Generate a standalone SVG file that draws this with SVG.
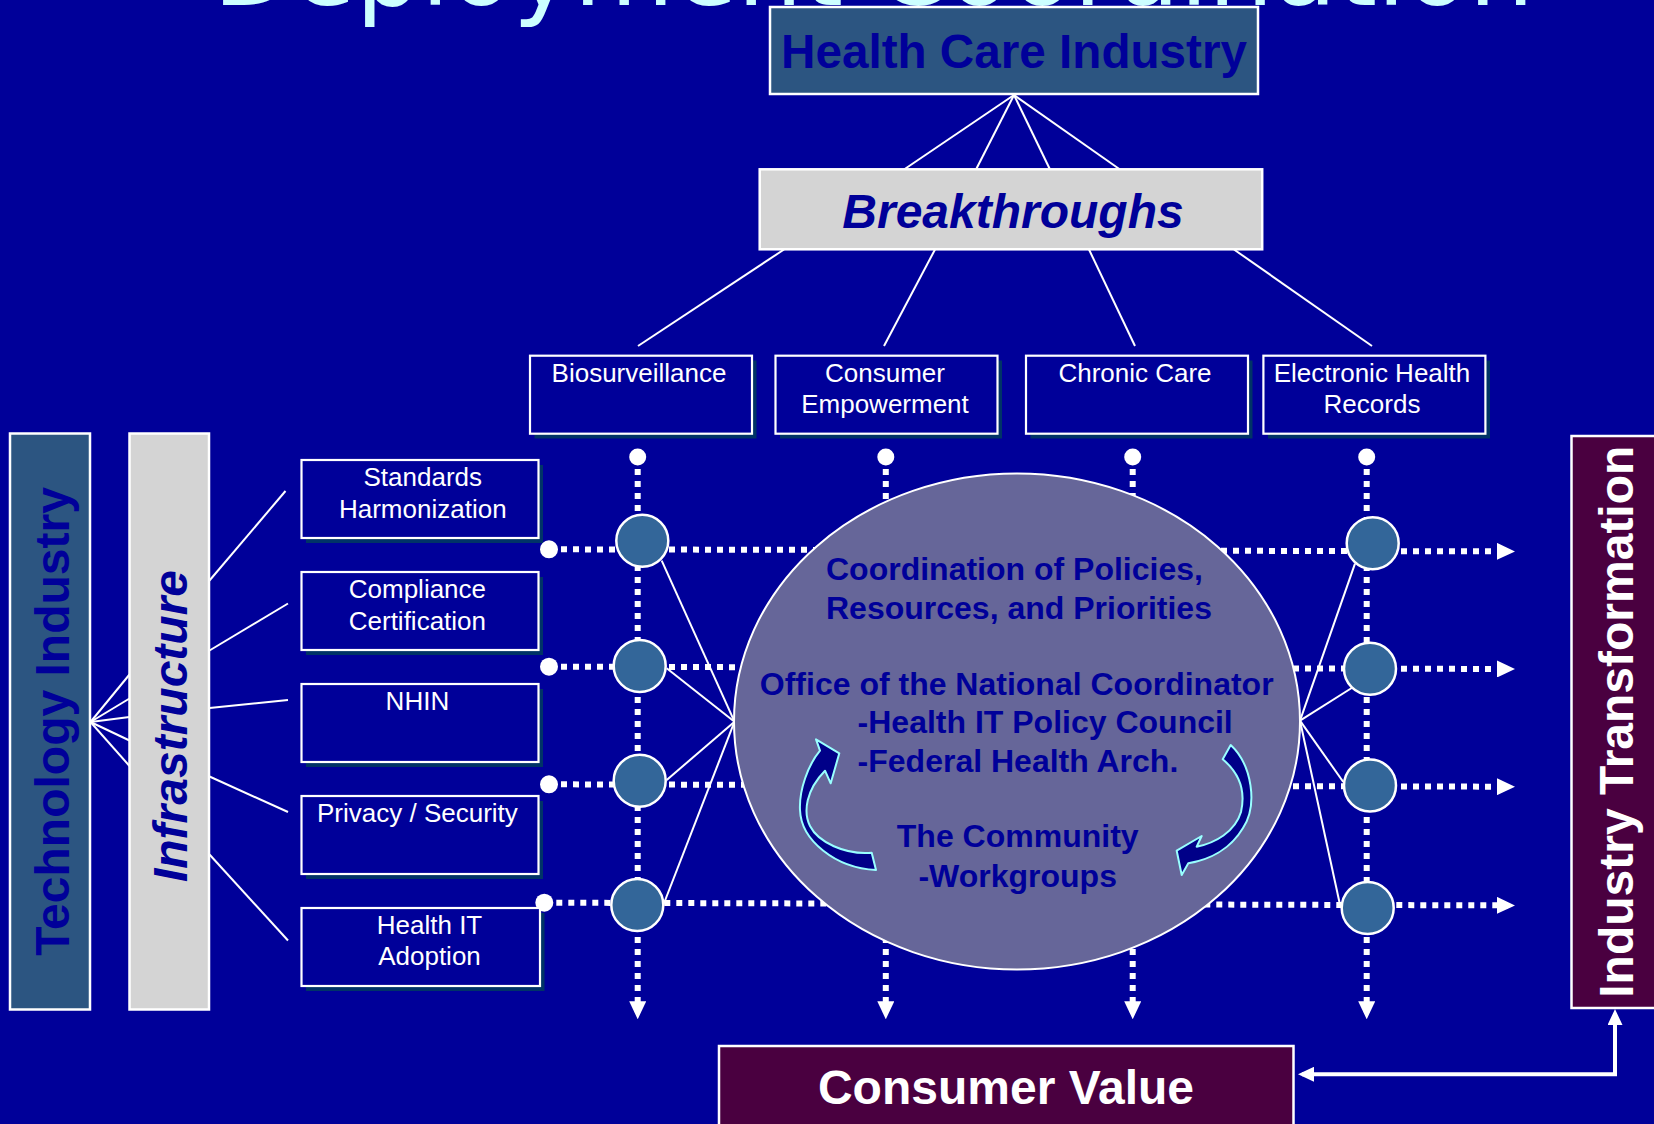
<svg xmlns="http://www.w3.org/2000/svg" width="1654" height="1124" viewBox="0 0 1654 1124">
  <defs>
    <style>
      .sans { font-family: "Liberation Sans", Arial, sans-serif; }
      .box { fill: #000099; stroke: #ffffff; stroke-width: 2.2; }
      .shadow { fill: #003366; }
      .lbl { font-family: "Liberation Sans", Arial, sans-serif; font-size: 26px; fill: #ffffff; text-anchor: middle; }
      .big { font-family: "Liberation Sans", Arial, sans-serif; font-size: 48px; font-weight: bold; text-anchor: middle; }
      .ell { font-family: "Liberation Sans", Arial, sans-serif; font-size: 32px; font-weight: bold; fill: #000099; }
      .line { stroke: #ffffff; stroke-width: 2; fill: none; }
      .flow { stroke: #ffffff; stroke-width: 6; stroke-dasharray: 6 6; fill: none; marker-end: url(#flowHead); }
      .dot { fill: #ffffff; }
      .hub { fill: #336699; stroke: #ffffff; stroke-width: 2.5; }
      .steel { fill: #2c5581; stroke: #ffffff; stroke-width: 2.5; }
      .grey { fill: #d4d4d4; stroke: #ffffff; stroke-width: 2.5; }
      .wine { fill: #4a0040; stroke: #ffffff; stroke-width: 2.5; }
      .cycle { fill: #000088; stroke: #99ffff; stroke-width: 2; stroke-linejoin: round; }
    </style>
    <marker id="flowHead" markerUnits="userSpaceOnUse" viewBox="0 0 18 17" markerWidth="18" markerHeight="17" refX="11" refY="8.5" orient="auto">
      <path d="M0,0 L18,8.5 L0,17 Z" fill="#ffffff"/>
    </marker>
    <marker id="solidHead" markerUnits="userSpaceOnUse" viewBox="0 0 16 15" markerWidth="16" markerHeight="15" refX="12" refY="7.5" orient="auto-start-reverse">
      <path d="M0,0 L16,7.5 L0,15 Z" fill="#ffffff"/>
    </marker>
  </defs>

  <!-- background -->
  <rect x="0" y="0" width="1654" height="1124" fill="#000099"/>

  <!-- slide title, clipped by the top edge -->
  <text x="213" y="5" font-family="'DejaVu Sans', Verdana, sans-serif" font-size="103" fill="#ccffff">Deployment Coordination</text>

  <g id="connectors">
    <!-- Health Care Industry to Breakthroughs -->
    <line class="line" x1="1014" y1="95" x2="904" y2="169.5"/>
    <line class="line" x1="1014" y1="95" x2="976" y2="169.5"/>
    <line class="line" x1="1014" y1="95" x2="1050" y2="169.5"/>
    <line class="line" x1="1014" y1="95" x2="1120" y2="169.5"/>
    <!-- Breakthroughs to the four areas -->
    <line class="line" x1="784" y1="249.5" x2="638" y2="346"/>
    <line class="line" x1="935" y1="249.5" x2="884" y2="346"/>
    <line class="line" x1="1089" y1="249.5" x2="1135" y2="346"/>
    <line class="line" x1="1234" y1="249.5" x2="1372" y2="346"/>
    <!-- Technology Industry to Infrastructure -->
    <line class="line" x1="90.5" y1="722" x2="129.5" y2="674.5"/>
    <line class="line" x1="90.5" y1="722" x2="129.5" y2="698.5"/>
    <line class="line" x1="90.5" y1="722" x2="129.5" y2="717"/>
    <line class="line" x1="90.5" y1="722" x2="129.5" y2="740.5"/>
    <line class="line" x1="90.5" y1="722" x2="129.5" y2="766"/>
    <!-- Infrastructure to its components -->
    <line class="line" x1="209.5" y1="580.5" x2="285.5" y2="491"/>
    <line class="line" x1="209.5" y1="650.5" x2="288" y2="603.5"/>
    <line class="line" x1="209.5" y1="708" x2="288" y2="700"/>
    <line class="line" x1="209.5" y1="776.5" x2="288" y2="812"/>
    <line class="line" x1="209.5" y1="854.5" x2="288" y2="940.5"/>

    <!-- vertical flows from each breakthrough area -->
    <path class="flow" d="M637.7,457 V1012.3"/>
    <path class="flow" d="M885.8,457 V1012.3"/>
    <path class="flow" d="M1132.7,457 V1012.3"/>
    <path class="flow" d="M1366.7,457 V1012.3"/>
    <circle class="dot" cx="637.7" cy="457" r="8.5"/>
    <circle class="dot" cx="885.8" cy="457" r="8.5"/>
    <circle class="dot" cx="1132.7" cy="457" r="8.5"/>
    <circle class="dot" cx="1366.7" cy="457" r="8.5"/>

    <!-- horizontal flows from each infrastructure component -->
    <path class="flow" d="M549,549.3 L1508,551.4"/>
    <path class="flow" d="M549,666.7 L1508,669"/>
    <path class="flow" d="M549,784.3 L1508,786.7"/>
    <path class="flow" d="M544.3,902.7 L1508,905.4"/>
    <circle class="dot" cx="549" cy="549.3" r="9"/>
    <circle class="dot" cx="549" cy="666.7" r="9"/>
    <circle class="dot" cx="549" cy="784.3" r="9"/>
    <circle class="dot" cx="544.3" cy="902.7" r="9"/>

    <!-- hubs to the coordination ellipse -->
    <line class="line" x1="661.7" y1="560.7" x2="734.5" y2="721.7"/>
    <line class="line" x1="666.7" y1="668.3" x2="734.5" y2="721.7"/>
    <line class="line" x1="666.7" y1="780" x2="734.5" y2="721.7"/>
    <line class="line" x1="663.3" y1="905" x2="734.5" y2="721.7"/>
    <line class="line" x1="1300" y1="720.7" x2="1355" y2="563.7"/>
    <line class="line" x1="1300" y1="720.7" x2="1351.7" y2="688"/>
    <line class="line" x1="1300" y1="720.7" x2="1343.3" y2="782"/>
    <line class="line" x1="1300" y1="720.7" x2="1340" y2="904.7"/>

    <!-- Consumer Value and Industry Transformation link -->
    <path d="M1302,1074.3 H1615 V1013" fill="none" stroke="#ffffff" stroke-width="4" marker-start="url(#solidHead)" marker-end="url(#solidHead)"/>
  </g>

  <g id="health-care-industry">
    <rect class="steel" x="770" y="7" width="488" height="87"/>
    <text class="big" x="1014" y="68" fill="#000099" textLength="466" lengthAdjust="spacingAndGlyphs">Health Care Industry</text>
  </g>

  <g id="breakthroughs">
    <rect class="grey" x="759.7" y="169.3" width="502.5" height="80"/>
    <text class="big" x="1013" y="228" fill="#000099" font-style="italic">Breakthroughs</text>
  </g>

  <g id="biosurveillance">
    <rect class="shadow" x="534.5" y="360.5" width="222" height="78"/>
    <rect class="box" x="530" y="355.7" width="222" height="78"/>
    <text class="lbl" x="639" y="381.7">Biosurveillance</text>
  </g>
  <g id="consumer-empowerment">
    <rect class="shadow" x="780" y="360.5" width="222" height="78"/>
    <rect class="box" x="775.5" y="355.7" width="222" height="78"/>
    <text class="lbl" x="885" y="381.7">Consumer</text>
    <text class="lbl" x="885" y="413.3">Empowerment</text>
  </g>
  <g id="chronic-care">
    <rect class="shadow" x="1030.5" y="360.5" width="222" height="78"/>
    <rect class="box" x="1026" y="355.7" width="222" height="78"/>
    <text class="lbl" x="1135" y="381.7">Chronic Care</text>
  </g>
  <g id="electronic-health-records">
    <rect class="shadow" x="1268" y="360.5" width="222" height="78"/>
    <rect class="box" x="1263.4" y="355.7" width="222" height="78"/>
    <text class="lbl" x="1372" y="381.7">Electronic Health</text>
    <text class="lbl" x="1372" y="413.3">Records</text>
  </g>

  <g id="technology-industry">
    <rect class="steel" x="10" y="433.5" width="80" height="576"/>
    <text class="big" transform="translate(69,721.4) rotate(-90)" fill="#000099">Technology Industry</text>
  </g>

  <g id="infrastructure">
    <rect class="grey" x="129.5" y="433.5" width="79.5" height="576"/>
    <text class="big" transform="translate(187,726) rotate(-90)" fill="#000099" font-style="italic">Infrastructure</text>
  </g>

  <g id="standards-harmonization">
    <rect class="shadow" x="306" y="465" width="237" height="78"/>
    <rect class="box" x="301.5" y="460" width="237" height="78"/>
    <text class="lbl" x="422.8" y="485.8">Standards</text>
    <text class="lbl" x="422.8" y="517.6">Harmonization</text>
  </g>
  <g id="compliance-certification">
    <rect class="shadow" x="306" y="577" width="237" height="78"/>
    <rect class="box" x="301.5" y="572" width="237" height="78"/>
    <text class="lbl" x="417.4" y="598">Compliance</text>
    <text class="lbl" x="417.4" y="629.7">Certification</text>
  </g>
  <g id="nhin">
    <rect class="shadow" x="306" y="689" width="237" height="78"/>
    <rect class="box" x="301.5" y="684" width="237" height="78"/>
    <text class="lbl" x="417.4" y="709.7">NHIN</text>
  </g>
  <g id="privacy-security">
    <rect class="shadow" x="306" y="801" width="237" height="78"/>
    <rect class="box" x="301.5" y="796" width="237" height="78"/>
    <text class="lbl" x="417.4" y="821.8">Privacy / Security</text>
  </g>
  <g id="health-it-adoption">
    <rect class="shadow" x="306" y="913" width="238.5" height="78"/>
    <rect class="box" x="301.5" y="908" width="238.5" height="78"/>
    <text class="lbl" x="429.5" y="933.6">Health IT</text>
    <text class="lbl" x="429.5" y="965.4">Adoption</text>
  </g>

  <g id="coordination">
    <ellipse cx="1017" cy="721.5" rx="283" ry="248" fill="#666699" stroke="#ffffff" stroke-width="2"/>
    <text class="ell" x="826" y="580">Coordination of Policies,</text>
    <text class="ell" x="826" y="619">Resources, and Priorities</text>
    <text class="ell" x="1016.7" y="695" text-anchor="middle">Office of the National Coordinator</text>
    <text class="ell" x="857.6" y="733.3">-Health IT Policy Council</text>
    <text class="ell" x="857.6" y="771.7">-Federal Health Arch.</text>
    <text class="ell" x="1017.7" y="846.7" text-anchor="middle">The Community</text>
    <text class="ell" x="1017.7" y="886.7" text-anchor="middle">-Workgroups</text>
    <!-- circular arrows -->
    <path class="cycle" d="M820,750.7 C808,765 799,790 800,810 C801,840 835,868 876,870 L871.7,852.7 C845,855 818,842 810,826 C803,812 806,790 825,770.7 L830.7,783.3 L839.3,753.3 L816,739.3 Z"/>
    <path class="cycle" d="M1230.7,745 C1252,765 1258,805 1243,828 C1230,850 1208,860 1188.3,863.3 L1181.7,875 L1176.7,850.7 L1201.7,836 L1196.7,846.7 C1215,843 1235,832 1241,812 C1246,790 1238,772 1222.7,759.3 Z"/>
  </g>

  <g id="hubs-left">
    <circle class="hub" cx="642.3" cy="540.7" r="26"/>
    <circle class="hub" cx="639.7" cy="666" r="26"/>
    <circle class="hub" cx="639.7" cy="780.7" r="26"/>
    <circle class="hub" cx="637.3" cy="905" r="26"/>
  </g>
  <g id="hubs-right">
    <circle class="hub" cx="1372.7" cy="543.2" r="26"/>
    <circle class="hub" cx="1370" cy="668.8" r="26"/>
    <circle class="hub" cx="1370" cy="785.5" r="26"/>
    <circle class="hub" cx="1367.7" cy="908" r="26"/>
  </g>

  <g id="industry-transformation">
    <rect class="wine" x="1571.5" y="436" width="95" height="572"/>
    <text class="big" transform="translate(1633,721.7) rotate(-90)" fill="#ffffff">Industry Transformation</text>
  </g>

  <g id="consumer-value">
    <rect class="wine" x="719" y="1046" width="574.5" height="100"/>
    <text class="big" x="1006" y="1104" fill="#ffffff">Consumer Value</text>
  </g>
</svg>
